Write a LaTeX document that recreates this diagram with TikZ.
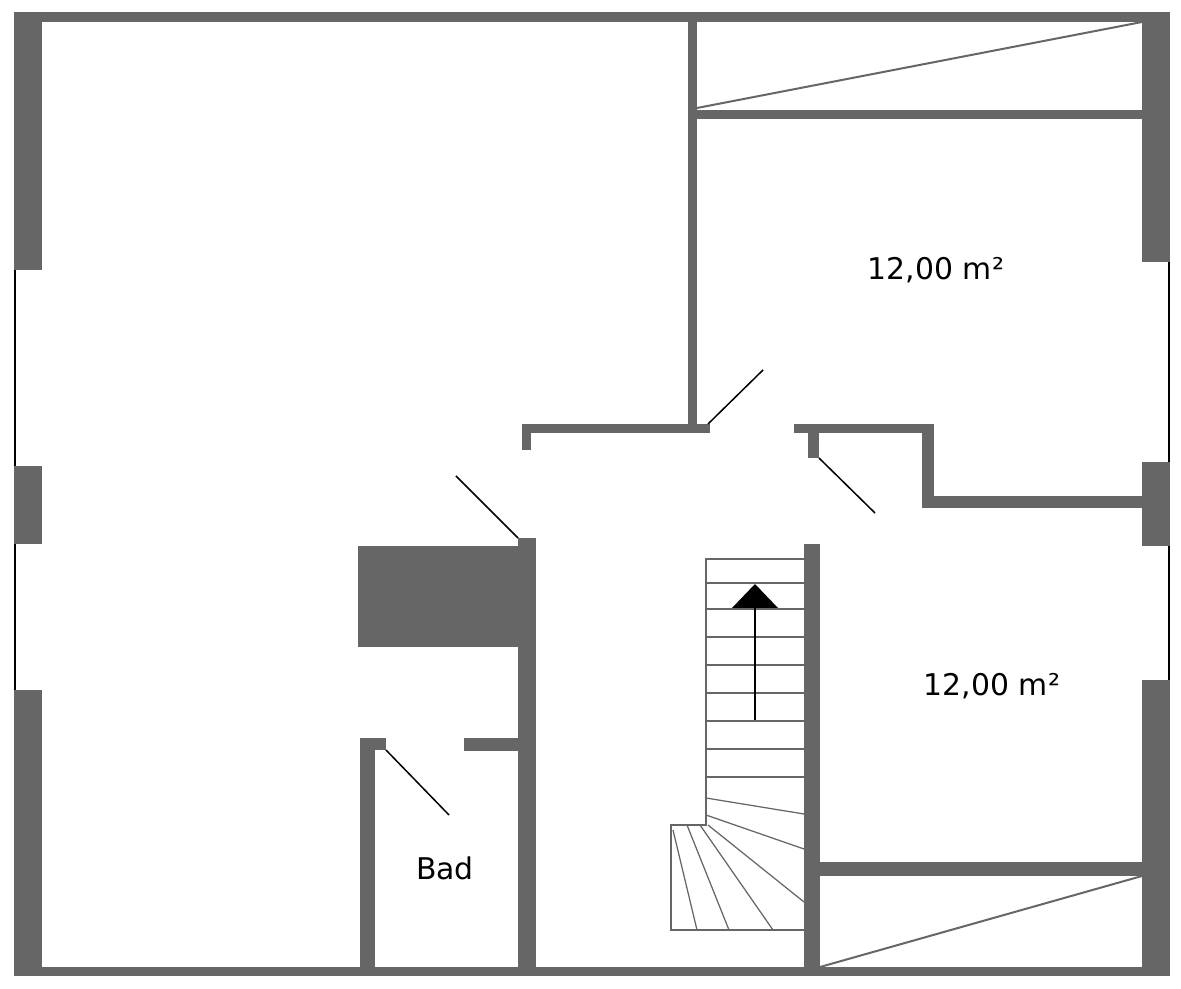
\documentclass[tikz,border=0pt]{standalone}
\usepackage{fontspec}
\setmainfont{DejaVu Sans}
\begin{document}
\begin{tikzpicture}[x=0.02cm,y=-0.02cm,
  wall/.style={fill=wallc,draw=none},
  thin/.style={draw=wallc,line width=0.04cm},
  door/.style={draw=black,line width=0.03cm},
  lbl/.style={font=\fontsize{17}{17}\selectfont}]
\definecolor{wallc}{HTML}{666666}
\useasboundingbox (0,0) rectangle (1181,989);
% outer walls
\fill[wall] (14,12) rectangle (1170,22);
\fill[wall] (14,967) rectangle (1170,976);
\fill[wall] (14,12) rectangle (42,270);
\fill[wall] (14,466) rectangle (42,544);
\fill[wall] (14,690) rectangle (42,976);
\fill[wall] (1142,12) rectangle (1170,262);
\fill[wall] (1142,462) rectangle (1170,546);
\fill[wall] (1142,680) rectangle (1170,976);
\draw[draw=black,line width=0.03cm] (15,270) -- (15,466) (15,544) -- (15,690);
\draw[draw=black,line width=0.03cm] (1169,262) -- (1169,462) (1169,546) -- (1169,680);
% inner walls
\fill[wall] (688,12) rectangle (697,433);
\fill[wall] (697,110) rectangle (1142,119);
\draw[thin] (697,108) -- (1142,22);
\fill[wall] (522,424) rectangle (710,433);
\fill[wall] (522,424) rectangle (531,450);
\fill[wall] (794,424) rectangle (934,433);
\fill[wall] (808,424) rectangle (819,458);
\fill[wall] (922,424) rectangle (934,508);
\fill[wall] (922,496) rectangle (1142,508);
\fill[wall] (518,538) rectangle (536,976);
\fill[wall] (358,546) rectangle (536,647);
\fill[wall] (360,738) rectangle (375,976);
\fill[wall] (360,738) rectangle (386,750);
\fill[wall] (464,738) rectangle (518,751);
\fill[wall] (804,544) rectangle (820,976);
\fill[wall] (820,862) rectangle (1142,876);
\draw[thin] (820,967) -- (1142,876);
% doors
\draw[door] (708,424) -- (763,370);
\draw[door] (819,458) -- (875,513);
\draw[door] (456,476) -- (518,538);
\draw[door] (386,750) -- (449,815);
% stairs
\draw[thin] (804,559) -- (706,559) -- (706,825) -- (671,825) -- (671,930) -- (804,930);
\foreach \y in {583,609,637,665,693,721,749,777} \draw[thin,line width=0.025cm] (706,\y) -- (804,\y);
\draw[thin,line width=0.025cm] (706,798) -- (804,814);
\draw[thin,line width=0.025cm] (706,815) -- (804,849);
\draw[thin,line width=0.025cm] (708,825) -- (804,902);
\draw[thin,line width=0.025cm] (700,825) -- (773,930);
\draw[thin,line width=0.025cm] (687,825) -- (729,930);
\draw[thin,line width=0.025cm] (673,830) -- (697,930);
\draw[line width=0.04cm] (755,720) -- (755,605);
\fill (732,608) -- (755,584) -- (778,608) -- cycle;
% labels
\node[lbl] (r1) at (936,270) {12,00 m²};
\node[lbl] (r2) at (992,686) {12,00 m²};
\node[lbl] (bad) at (445,868) {Bad};
\end{tikzpicture}
\end{document}
